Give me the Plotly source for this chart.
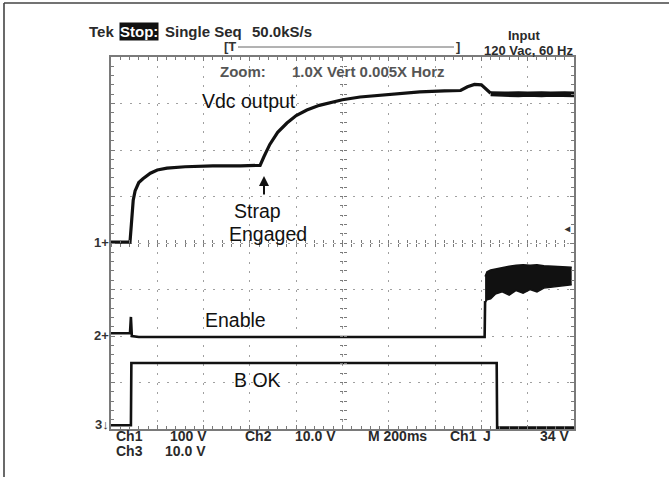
import plotly.graph_objects as go

# ---------------- data (x: time in ms, 200 ms/div ; y: screen divisions) ----------------
vdc_t = [0, 82, 88, 96, 104, 120, 138, 170, 200, 242, 320, 440, 560, 644, 660, 686, 720,
         760, 800, 846, 900, 958, 1000, 1076, 1200, 1334, 1440, 1510, 1540, 1570, 1600,
         1620, 1640]
vdc_v = [4.02, 4.02, 4.4, 4.92, 5.12, 5.3, 5.38, 5.5, 5.57, 5.61, 5.64, 5.66, 5.66, 5.67,
         5.85, 6.12, 6.38, 6.58, 6.74, 6.86, 6.96, 7.03, 7.08, 7.14, 7.2, 7.25, 7.27, 7.28,
         7.36, 7.41, 7.40, 7.32, 7.22]
vdc_noise_t = [1640, 1700, 1760, 1800, 1860, 1900, 1960, 2000]
vdc_noise_hi = [7.25, 7.24, 7.25, 7.24, 7.25, 7.24, 7.25, 7.24]
vdc_noise_lo = [7.17, 7.16, 7.15, 7.16, 7.15, 7.16, 7.15, 7.15]

en_t = [0, 82, 86, 90, 120, 400, 800, 1200, 1614, 1616]
en_v = [2.06, 2.06, 2.41, 2.0, 1.98, 1.98, 1.98, 1.98, 1.98, 2.75]
en_band_t = [1616, 1624, 1640, 1660, 1690, 1720, 1750, 1780, 1810, 1840, 1870, 1900,
             1930, 1960, 1990]
en_band_hi = [3.28, 3.38, 3.42, 3.44, 3.48, 3.50, 3.52, 3.53, 3.52, 3.53, 3.51, 3.50,
              3.50, 3.49, 3.48]
en_band_lo = [2.72, 2.78, 2.80, 2.90, 2.95, 2.88, 2.98, 2.92, 3.00, 2.95, 3.03, 3.05,
              3.06, 3.08, 3.10]

bok_t = [0, 86, 88, 1666, 1668, 2000]
bok_v = [0.08, 0.08, 1.42, 1.42, 0.03, 0.03]

# ---------------- geometry helpers ----------------
W, H = 669, 477
L, R, T, B = 111, 574, 57, 429


def px(x):
    return (x - L) / (R - L)


def py(y):
    return (B - y) / (B - T)


fig = go.Figure()
black = "#111111"

fig.add_trace(go.Scatter(x=vdc_t, y=vdc_v, mode="lines",
                         line=dict(color=black, width=3.2), hoverinfo="skip"))
fig.add_trace(go.Scatter(x=vdc_noise_t, y=vdc_noise_hi, mode="lines",
                         line=dict(color=black, width=1.5), hoverinfo="skip"))
fig.add_trace(go.Scatter(x=vdc_noise_t, y=vdc_noise_lo, mode="lines", fill="tonexty",
                         fillcolor=black, line=dict(color=black, width=1.5), hoverinfo="skip"))

fig.add_trace(go.Scatter(x=en_t, y=en_v, mode="lines",
                         line=dict(color=black, width=2.6), hoverinfo="skip"))
fig.add_trace(go.Scatter(x=en_band_t, y=en_band_hi, mode="lines",
                         line=dict(color=black, width=1.5), hoverinfo="skip"))
fig.add_trace(go.Scatter(x=en_band_t, y=en_band_lo, mode="lines", fill="tonexty",
                         fillcolor=black, line=dict(color=black, width=1.5), hoverinfo="skip"))

fig.add_trace(go.Scatter(x=bok_t, y=bok_v, mode="lines",
                         line=dict(color=black, width=2.6), hoverinfo="skip"))

# dummy traces for the centre graticule axes
for k in ("2", "3"):
    fig.add_trace(go.Scatter(x=[None], y=[None], xaxis="x" + k, yaxis="y" + k,
                             showlegend=False, hoverinfo="skip"))

grid_col = "#a0a0a0"
edge_col = "#7a7a7a"

fig.update_layout(
    width=W, height=H,
    margin=dict(l=L, r=W - R, t=T, b=H - B),
    paper_bgcolor="white", plot_bgcolor="white",
    showlegend=False,
    xaxis=dict(range=[0, 2000], dtick=200, showgrid=True, gridcolor=grid_col,
               griddash="2px,7.3px", gridwidth=1, zeroline=False,
               showline=True, linecolor=edge_col, linewidth=1.5, mirror="allticks",
               ticks="inside", ticklen=4, tickcolor=edge_col,
               minor=dict(dtick=40, ticks="inside", ticklen=3, tickcolor=edge_col, showgrid=False),
               showticklabels=False, fixedrange=True),
    yaxis=dict(range=[0, 8], dtick=1, showgrid=True, gridcolor=grid_col,
               griddash="2px,7.3px", gridwidth=1, zeroline=False,
               showline=True, linecolor=edge_col, linewidth=1.5, mirror="allticks",
               ticks="inside", ticklen=4, tickcolor=edge_col,
               minor=dict(dtick=0.2, ticks="inside", ticklen=3, tickcolor=edge_col, showgrid=False),
               showticklabels=False, fixedrange=True),
    xaxis2=dict(overlaying="x", anchor="free", position=0.5, range=[0, 2000], dtick=40,
                ticks="inside", ticklen=3, tickcolor=edge_col, showgrid=False, zeroline=False,
                showline=False, showticklabels=False, fixedrange=True),
    xaxis3=dict(overlaying="x", anchor="free", position=0.5, range=[0, 2000], dtick=40,
                ticks="outside", ticklen=3, tickcolor=edge_col, showgrid=False, zeroline=False,
                showline=False, showticklabels=False, fixedrange=True),
    yaxis2=dict(overlaying="y", anchor="free", position=0.5, range=[0, 8], dtick=0.2,
                ticks="inside", ticklen=3, tickcolor=edge_col, showgrid=False, zeroline=False,
                showline=False, showticklabels=False, fixedrange=True),
    yaxis3=dict(overlaying="y", anchor="free", position=0.5, range=[0, 8], dtick=0.2,
                ticks="outside", ticklen=3, tickcolor=edge_col, showgrid=False, zeroline=False,
                showline=False, showticklabels=False, fixedrange=True),
)

scope_font = "Liberation Sans, Arial, Helvetica, sans-serif"
label_font = "Liberation Sans, Arial, Helvetica, sans-serif"

ann = []


def txt(s, x, y, size=15, color="#2a2a2a", anchor="left", family=scope_font, bold=True, **kw):
    ann.append(dict(text=("<b>%s</b>" % s) if bold else s, x=px(x), y=py(y),
                    xref="paper", yref="paper", xanchor=anchor, yanchor="middle",
                    showarrow=False, font=dict(family=family, size=size, color=color), **kw))


# header
txt("Tek", 87, 31)
txt("Stop:", 119, 31, color="white", bgcolor="#111111", borderpad=0)
txt("Single Seq", 163, 31)
txt("50.0kS/s", 250, 31)
txt("[T", 222, 46, size=13, color="#333333")
txt("]", 454, 46, size=13, color="#333333")
txt("Input", 524, 35, size=13, anchor="center")
txt("120 Vac, 60 Hz", 528, 50, size=13, anchor="center")
txt("Zoom:", 218, 72, color="#555555")
txt("1.0X Vert 0.005X Horz", 290, 72, color="#555555")

# channel markers
txt("1+", 111, 242, size=13, anchor="right", color="#333333")
txt("2+", 111, 335, size=13, anchor="right", color="#333333")
txt("3↓", 111, 424, size=13, anchor="right", color="#333333")
txt("◂", 573, 228, size=10, anchor="right", color="#333333")

# footer
txt("Ch1", 114, 436, size=14)
txt("100 V", 168, 436, size=14)
txt("Ch2", 243, 436, size=14)
txt("10.0 V", 293, 436, size=14)
txt("M 200ms", 366, 436, size=14)
txt("Ch1", 448, 436, size=14)
txt("J", 481, 436, size=14)
txt("34 V", 571, 436, size=14, anchor="right")
txt("Ch3", 114, 451, size=14)
txt("10.0 V", 163, 451, size=14)

# signal labels
txt("Vdc output", 200, 101, size=19.5, color="#111111", family=label_font, bold=False)
txt("Strap", 232, 211, size=19.5, color="#111111", family=label_font, bold=False)
txt("Engaged", 227, 234, size=19.5, color="#111111", family=label_font, bold=False)
txt("Enable", 203, 320, size=19.5, color="#111111", family=label_font, bold=False)
txt("B OK", 232, 380, size=19.5, color="#111111", family=label_font, bold=False)

# Strap arrow
ann.append(dict(text="", x=px(264), y=py(176), xref="paper", yref="paper",
                showarrow=True, ax=0, ay=20, arrowhead=2, arrowsize=1, arrowwidth=2,
                arrowcolor="#111111"))

fig.update_layout(annotations=ann)

# decorative frame and record-length bar
fig.update_layout(shapes=[
    dict(type="line", xref="paper", yref="paper", x0=px(4), x1=px(4), y0=py(3), y1=py(477),
         line=dict(color="#444444", width=1.6)),
    dict(type="line", xref="paper", yref="paper", x0=px(4), x1=px(669), y0=py(3), y1=py(3),
         line=dict(color="#444444", width=1.6)),
    dict(type="line", xref="paper", yref="paper", x0=px(238), x1=px(454), y0=py(47), y1=py(47),
         line=dict(color="#666666", width=1)),
])

fig.write_html("out.html", config={"displayModeBar": False},
               post_script="document.body.style.margin='0px';document.body.style.overflow='hidden';")
